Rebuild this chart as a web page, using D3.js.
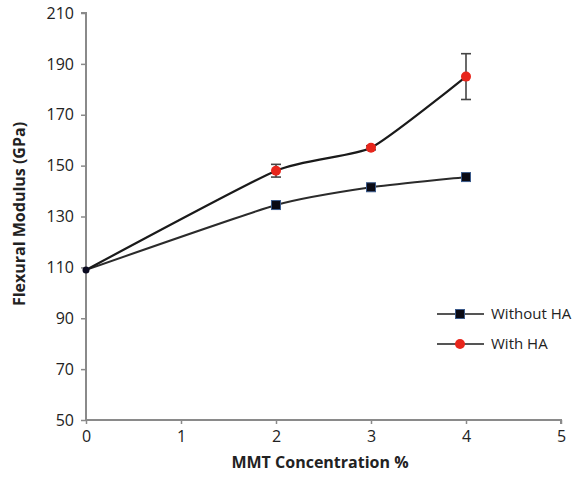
<!DOCTYPE html>
<html>
<head>
<meta charset="utf-8">
<script src="https://cdn.jsdelivr.net/npm/d3@7"></script>
<style>
  body { margin: 0; background: #fff; }
  text { font-family: "Open Sans", "Liberation Sans", sans-serif; fill: #222; }
</style>
</head>
<body>
<script>
// data
var concentration = [0, 2, 3, 4];
var withoutHA = [109, 134.5, 141.5, 145.5];
var withHA = [109, 148, 157, 185];
var withHAErr = [0, 2.5, 0.8, 9];
var xTicks = [0, 1, 2, 3, 4, 5];
var yTicks = [50, 70, 90, 110, 130, 150, 170, 190, 210];
var seriesNames = ["Without HA", "With HA"];

var W = 586, H = 480;
var svg = d3.select("body").append("svg")
    .attr("width", W)
    .attr("height", H);

var x = d3.scaleLinear().domain([0, 5]).range([86, 561]);
var y = d3.scaleLinear().domain([50, 210]).range([420, 13]);

// axes
var axisColor = "#8a8a8a";
var yAxis = svg.append("g")
    .attr("transform", "translate(86,0)")
    .call(d3.axisLeft(y).tickValues(yTicks).tickSize(5).tickPadding(7));
var xAxis = svg.append("g")
    .attr("transform", "translate(0,420)")
    .call(d3.axisBottom(x).tickValues(xTicks).tickFormat(d3.format("d")).tickSize(4).tickPadding(7));
[xAxis, yAxis].forEach(function(a) {
    a.select(".domain").attr("stroke", axisColor).attr("stroke-width", 2);
    a.selectAll(".tick line").attr("stroke", axisColor).attr("stroke-width", 1.5);
    a.selectAll(".tick text").style("font-size", "16px").attr("fill", "#222");
});
xAxis.select(".domain").attr("d", "M86,0H561V4");
yAxis.select(".domain").attr("d", "M-5,13H0V420");

// axis titles
svg.append("text")
    .attr("x", 320).attr("y", 468)
    .attr("text-anchor", "middle")
    .style("font-size", "16px").style("font-weight", "bold")
    .text("MMT Concentration %");
svg.append("text")
    .attr("transform", "translate(25,214) rotate(-90)")
    .attr("text-anchor", "middle")
    .style("font-size", "16px").style("font-weight", "bold")
    .text("Flexural Modulus (GPa)");

var line = d3.line()
    .x(function(d) { return x(d[0]); })
    .y(function(d) { return y(d[1]); })
    .curve(d3.curveCardinal.tension(0.45));

var ptsA = concentration.map(function(c, i) { return [c, withoutHA[i]]; });
var ptsB = concentration.map(function(c, i) { return [c, withHA[i], withHAErr[i]]; });

svg.append("path").datum(ptsA)
    .attr("d", line).attr("fill", "none")
    .attr("stroke", "#2b2b2b").attr("stroke-width", 2);
svg.append("path").datum(ptsB)
    .attr("d", line).attr("fill", "none")
    .attr("stroke", "#1a1a1a").attr("stroke-width", 2.2);

// error bars
var eb = svg.append("g").selectAll("g")
    .data(ptsB.filter(function(d) { return d[2] > 0; }))
    .join("g").attr("stroke", "#444").attr("stroke-width", 1.6);
eb.append("line")
    .attr("x1", function(d) { return x(d[0]); }).attr("x2", function(d) { return x(d[0]); })
    .attr("y1", function(d) { return y(d[1] + d[2]); }).attr("y2", function(d) { return y(d[1] - d[2]); });
eb.append("line")
    .attr("x1", function(d) { return x(d[0]) - 5; }).attr("x2", function(d) { return x(d[0]) + 5; })
    .attr("y1", function(d) { return y(d[1] + d[2]); }).attr("y2", function(d) { return y(d[1] + d[2]); });
eb.append("line")
    .attr("x1", function(d) { return x(d[0]) - 5; }).attr("x2", function(d) { return x(d[0]) + 5; })
    .attr("y1", function(d) { return y(d[1] - d[2]); }).attr("y2", function(d) { return y(d[1] - d[2]); });

// markers
function square(g, cx, cy) {
    g.append("rect")
        .attr("x", cx - 4.5).attr("y", cy - 4.5)
        .attr("width", 9).attr("height", 9)
        .attr("fill", "#0a0a14").attr("stroke", "#3b5a8a").attr("stroke-width", 1);
}
function dot(g, cx, cy) {
    g.append("circle")
        .attr("cx", cx).attr("cy", cy).attr("r", 5)
        .attr("fill", "#e8261c");
}
var mk = svg.append("g");
ptsA.slice(1).forEach(function(d) { square(mk, x(d[0]), y(d[1])); });
ptsB.slice(1).forEach(function(d) { dot(mk, x(d[0]), y(d[1])); });
// shared start point drawn as a small dark dot
mk.append("circle").attr("cx", x(0)).attr("cy", y(withHA[0])).attr("r", 3.5).attr("fill", "#0a0a20");

// legend
var legend = svg.append("g");
seriesNames.forEach(function(name, i) {
    var ly = 314 + i * 30;
    legend.append("line")
        .attr("x1", 437).attr("x2", 484).attr("y1", ly).attr("y2", ly)
        .attr("stroke", "#555").attr("stroke-width", 2);
    if (i === 0) square(legend, 460, ly); else dot(legend, 460, ly);
    legend.append("text")
        .attr("x", 491).attr("y", ly + 5)
        .style("font-size", "15px")
        .text(name);
});
</script>
</body>
</html>
